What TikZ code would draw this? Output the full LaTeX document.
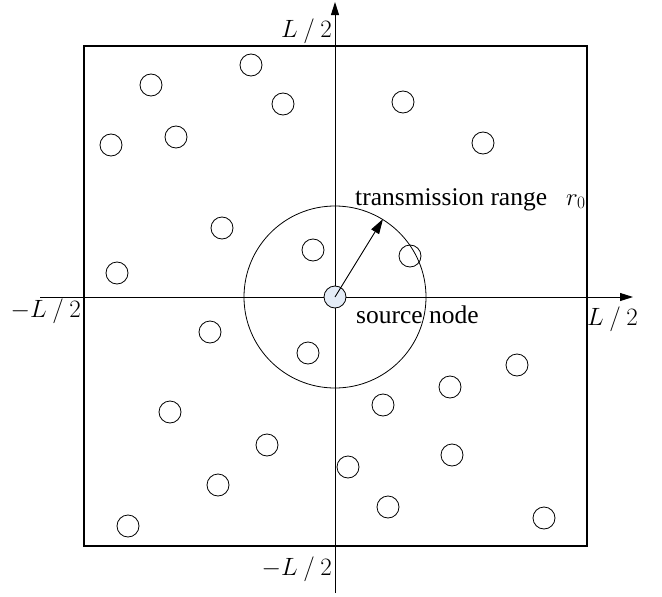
\RequirePackage{fix-cm}
\documentclass[tikz,border=0pt]{standalone}
\usepackage{fontspec}
\setmainfont{Liberation Serif}
\usetikzlibrary{arrows.meta}
\definecolor{srcfill}{RGB}{228,236,247}
\tikzset{
  sensor/.style={circle,draw,line width=0.8pt,minimum size=22pt,inner sep=0pt},
  src/.style={sensor,fill=srcfill},
  axis/.style={line width=0.9pt,-{Triangle[length=13pt,width=8pt]}},
  radius/.style={line width=0.9pt,-{Triangle[length=15pt,width=9pt]}},
  lbl/.style={inner sep=0pt,font=\fontsize{25.5}{30}\selectfont},
  mlbl/.style={inner sep=0pt,font=\fontsize{25}{30}\selectfont},
}
\begin{document}
\begin{tikzpicture}[x=1pt,y=-1pt]
\useasboundingbox (0,0) rectangle (662,597);
\draw[line width=1.6pt] (84,46) rectangle (587,546);
\coordinate (xl) at (40,297);
\coordinate (xr) at (633,297);
\coordinate (yb) at (335,593);
\coordinate (yt) at (335,2);
\draw[axis] (xl) -- (xr);
\draw[axis] (yb) -- (yt);
\node[circle,draw,line width=0.8pt,minimum size=182pt,inner sep=0pt] (range) at (335,297) {};
\node[src] (s) at (335,297) {};
\coordinate (rp) at (383,219);
\draw[radius] (s.center) -- (rp);
\foreach \i/\x/\y in {1/151/85,2/251/65,3/283/104,4/403/102,5/176/137,6/111/145,7/483/143,
  8/222/228,9/313/250,10/410/256,11/117/273,12/210/332,13/308/353,14/517/365,15/450/387,
  16/383/405,17/170/412,18/267/445,19/452/455,20/348/467,21/218/485,22/388/507,23/128/526,24/544/518}
  \node[sensor] (n\i) at (\x,\y) {};
\node[lbl,anchor=base west] (tr) at (355,205) {transmission range};
\node[mlbl,anchor=base west] (r0) at (566,205) {$r_0$};
\node[lbl,anchor=base west] (sn) at (356,323) {source node};
\node[mlbl,anchor=base east] (lt) at (332,37) {$L\:/\:2$};
\node[mlbl,anchor=base east] (ll) at (81,317) {$-L\:/\:2$};
\node[mlbl,anchor=base west] (lr) at (587,325) {$L\:/\:2$};
\node[mlbl,anchor=base east] (lb) at (332,575) {$-L\:/\:2$};
\end{tikzpicture}
\end{document}
